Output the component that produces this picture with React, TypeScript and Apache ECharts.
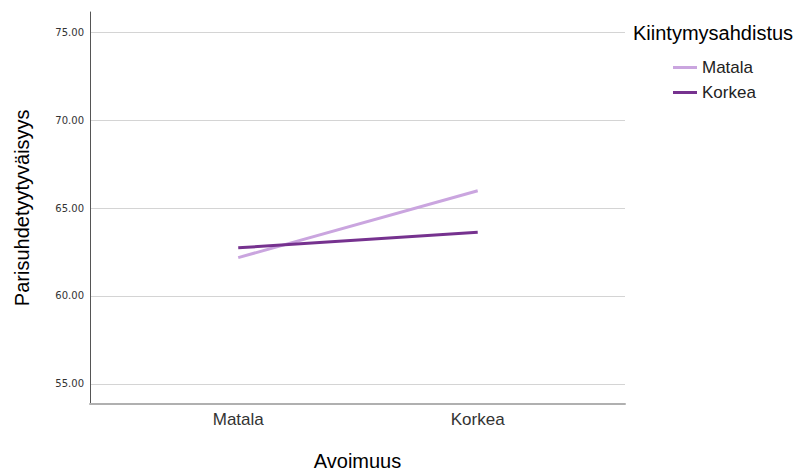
import React, { useEffect, useRef } from "react";
import * as echarts from "echarts";

const categories = ["Matala", "Korkea"];
const seriesNames = ["Matala", "Korkea"];
const matalaValues = [62.18, 65.98];
const korkeaValues = [62.74, 63.62];
const yTicks = [55, 60, 65, 70, 75];
const legendTitle = "Kiintymysahdistus";
const xTitle = "Avoimuus";
const yTitle = "Parisuhdetyytyväisyys";

const FONT = "'Liberation Sans', Arial, Helvetica, sans-serif";

export default function App() {
  const ref = useRef<HTMLDivElement>(null);
  useEffect(() => {
    if (!ref.current) return;
    const chart = echarts.init(ref.current, undefined, { renderer: "svg" });
    const toPts = (vals: number[]) => vals.map((v, i) => [i, v]);
    chart.setOption({
      animation: false,
      backgroundColor: "#ffffff",
      title: {
        text: legendTitle,
        left: 628,
        top: 18,
        textStyle: { fontFamily: FONT, fontSize: 20, fontWeight: "normal", color: "#000" },
      },
      legend: {
        orient: "vertical",
        left: 673,
        top: 59,
        padding: 0,
        icon: "rect",
        itemWidth: 24,
        itemHeight: 3,
        itemGap: 8,
        data: seriesNames,
        textStyle: { fontFamily: FONT, fontSize: 17, color: "#222" },
      },
      grid: { left: 90, top: 12, width: 535, height: 391.5, containLabel: false, outerBoundsMode: "none" },
      xAxis: {
        type: "value",
        min: -0.619,
        max: 1.615,
        name: xTitle,
        nameLocation: "middle",
        nameGap: 47,
        nameTextStyle: { fontFamily: FONT, fontSize: 20, color: "#000" },
        axisLine: { show: true, onZero: false, lineStyle: { color: "#b0b0b0", width: 2 } },
        axisTick: { show: false, customValues: [0, 1] },
        splitLine: { show: false },
        axisLabel: {
          customValues: [0, 1],
          formatter: (v: number) => categories[Math.round(v)] ?? "",
          fontFamily: FONT,
          fontSize: 17,
          color: "#333",
          margin: 7,
        },
      },
      yAxis: {
        type: "value",
        min: 53.89,
        max: 76.14,
        name: yTitle,
        nameLocation: "middle",
        nameGap: 58,
        nameTextStyle: { fontFamily: FONT, fontSize: 20, color: "#000" },
        axisLine: { show: true, onZero: false, lineStyle: { color: "#555", width: 1 } },
        axisTick: { show: false, customValues: yTicks },
        splitLine: { show: true, lineStyle: { color: "#d4d4d4", width: 1 } },
        axisLabel: {
          customValues: yTicks,
          formatter: (v: number) => v.toFixed(2),
          fontFamily: "'DejaVu Sans', Verdana, sans-serif",
          fontSize: 10,
          color: "#333",
          margin: 6,
        },
      },
      series: [
        {
          name: seriesNames[0],
          type: "line",
          data: toPts(matalaValues),
          symbol: "none",
          lineStyle: { color: "#caa5df", width: 3 },
          itemStyle: { color: "#caa5df" },
        },
        {
          name: seriesNames[1],
          type: "line",
          data: toPts(korkeaValues),
          symbol: "none",
          lineStyle: { color: "#76328f", width: 3 },
          itemStyle: { color: "#76328f" },
        },
      ],
    });
    return () => chart.dispose();
  }, []);
  return <div ref={ref} style={{ width: 800, height: 470, position: "absolute", left: 0, top: 0 }} />;
}
